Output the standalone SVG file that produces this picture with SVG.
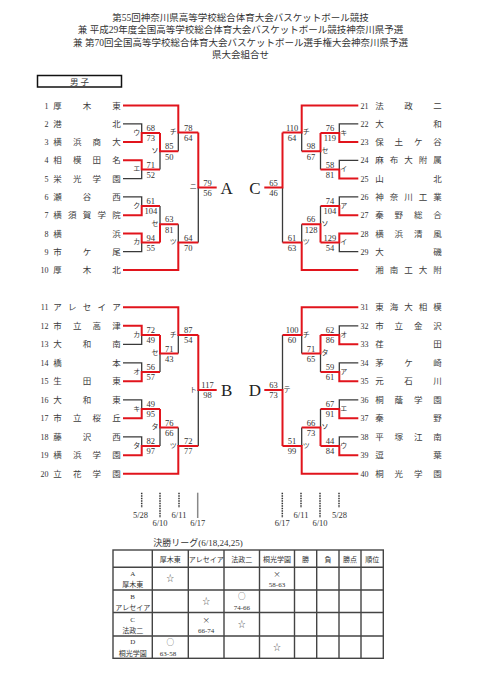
<svg xmlns="http://www.w3.org/2000/svg" width="481" height="680" viewBox="0 0 481 680">
<style>
.k{fill:none;stroke:#3a3a3a;stroke-width:1.3}
.r{fill:none;stroke:#e1141c;stroke-width:2}
.num{font-family:'Liberation Serif','Noto Sans CJK JP',serif;font-size:8px;fill:#333;text-anchor:end}
.nm{font-family:'Noto Sans CJK JP',sans-serif;font-size:8.5px;fill:#3c3c3c;text-anchor:middle}
.sc{font-family:'Liberation Serif',serif;font-size:8.5px;fill:#333;text-anchor:middle}
.lb{font-family:'Noto Sans CJK JP',sans-serif;font-size:7px;fill:#333;text-anchor:middle}
.big{font-family:'Liberation Serif',serif;font-size:17px;fill:#222;text-anchor:middle}
.ttl{font-family:'Liberation Serif','Noto Sans CJK JP',serif;font-size:9.5px;fill:#333;text-anchor:middle}
.dt{font-family:'Liberation Serif',serif;font-size:8.5px;fill:#333;text-anchor:middle}
.dl{fill:none;stroke:#333;stroke-width:1.5;stroke-dasharray:1.5 1}
.tb{fill:none;stroke:#444;stroke-width:1.4}
.tt{font-family:'Liberation Serif','Noto Sans CJK JP',serif;font-size:7px;fill:#333;text-anchor:middle}
.sy{font-family:'Noto Sans CJK JP',sans-serif;font-size:7.5px;fill:#444;text-anchor:middle}
</style>
<rect width="481" height="680" fill="#fff"/>
<g id="title">
<text class="ttl" x="240.5" y="20.5">第55回神奈川県高等学校総合体育大会バスケットボール競技</text>
<text class="ttl" x="240.5" y="33">兼 平成29年度全国高等学校総合体育大会バスケットボール競技神奈川県予選</text>
<text class="ttl" x="240.5" y="45.5">兼 第70回全国高等学校総合体育大会バスケットボール選手権大会神奈川県予選</text>
<text class="ttl" x="240.5" y="58">県大会組合せ</text>
</g>
<g id="section">
<rect x="37.5" y="75.5" width="84" height="11.5" fill="none" stroke="#111" stroke-width="1.5"/>
<text class="nm" x="79.5" y="84.5">男 子</text>
</g>
<g id="connectors">
<path class="k" d="M123 123.8H141.7V133M123 178.6H141.7V169.5M160 169.5V151.2M178.3 151.2V132.5M123 196.9H141.7V206M123 251.7H141.7V242.6M160 206V224.3M178.3 224.3V242.6M198.3 242.6V187.5"/>
<path class="k" d="M358.3 123.8H339.3V133M358.3 160.3H339.3V169.5M320.5 169.5V151.2M301.7 151.2V132.5M358.3 196.9H339.3V206M358.3 251.7H339.3V242.6M320.5 206V224.3M301.7 224.3V242.6M282.5 242.6V187.5"/>
<path class="k" d="M123 344.3H141.7V335M123 362.8H141.7V372M160 372V353.5M178.3 353.5V335M123 399.8H141.7V409M123 436.8H141.7V446M160 446V427.5M178.3 427.5V446M198.3 446V390"/>
<path class="k" d="M358.3 325.8H339.3V335M358.3 362.8H339.3V372M320.5 372V353.5M301.7 353.5V335M358.3 399.8H339.3V409M358.3 436.8H339.3V446M320.5 409V427.5M301.7 427.5V446M282.5 335V390"/>
<path class="r" d="M123 142.1H141.7V133H160M123 160.3H141.7V169.5H160M160 133V151.2H178.3M123 105.5H178.3V132.5H198.3M123 215.2H141.7V206H160M123 233.5H141.7V242.6H160M160 242.6V224.3H178.3M123 270H178.3V242.6H198.3M198.3 132.5V187.5H216.7"/>
<path class="r" d="M358.3 142.1H339.3V133H320.5M358.3 178.6H339.3V169.5H320.5M320.5 133V151.2H301.7M358.3 105.5H301.7V132.5H282.5M358.3 215.2H339.3V206H320.5M358.3 233.5H339.3V242.6H320.5M320.5 242.6V224.3H301.7M358.3 270H301.7V242.6H282.5M282.5 132.5V187.5H264.3"/>
<path class="r" d="M123 325.8H141.7V335H160M123 381.3H141.7V372H160M160 335V353.5H178.3M123 307.3H178.3V335H198.3M123 418.3H141.7V409H160M123 455.3H141.7V446H160M160 409V427.5H178.3M123 473.8H178.3V446H198.3M198.3 335V390H216.7"/>
<path class="r" d="M358.3 344.3H339.3V335H320.5M358.3 381.3H339.3V372H320.5M320.5 335V353.5H301.7M358.3 307.3H301.7V335H282.5M358.3 418.3H339.3V409H320.5M358.3 455.3H339.3V446H320.5M320.5 446V427.5H301.7M358.3 473.8H301.7V446H282.5M282.5 446V390H264.3"/>
</g>
<g id="t1"><text class="num" x="48.5" y="108.5">1</text><text class="nm" x="57.5 87 116.5" y="108.5">厚木東</text></g>
<g id="t2"><text class="num" x="48.5" y="126.8">2</text><text class="nm" x="57.5 116.5" y="126.8">港北</text></g>
<g id="t3"><text class="num" x="48.5" y="145.1">3</text><text class="nm" x="57.5 77.2 96.8 116.5" y="145.1">横浜商大</text></g>
<g id="t4"><text class="num" x="48.5" y="163.3">4</text><text class="nm" x="57.5 77.2 96.8 116.5" y="163.3">相模田名</text></g>
<g id="t5"><text class="num" x="48.5" y="181.6">5</text><text class="nm" x="57.5 77.2 96.8 116.5" y="181.6">栄光学園</text></g>
<g id="t6"><text class="num" x="48.5" y="199.9">6</text><text class="nm" x="57.5 87 116.5" y="199.9">瀬谷西</text></g>
<g id="t7"><text class="num" x="48.5" y="218.2">7</text><text class="nm" x="57.5 72.25 87 101.75 116.5" y="218.2">横須賀学院</text></g>
<g id="t8"><text class="num" x="48.5" y="236.5">8</text><text class="nm" x="57.5 116.5" y="236.5">横浜</text></g>
<g id="t9"><text class="num" x="48.5" y="254.7">9</text><text class="nm" x="57.5 87 116.5" y="254.7">市ケ尾</text></g>
<g id="t10"><text class="num" x="48.5" y="273">10</text><text class="nm" x="57.5 87 116.5" y="273">厚木北</text></g>
<g id="t11"><text class="num" x="48.5" y="310.3">11</text><text class="nm" x="57.5 72.25 87 101.75 116.5" y="310.3">アレセイア</text></g>
<g id="t12"><text class="num" x="48.5" y="328.8">12</text><text class="nm" x="57.5 77.2 96.8 116.5" y="328.8">市立高津</text></g>
<g id="t13"><text class="num" x="48.5" y="347.3">13</text><text class="nm" x="57.5 87 116.5" y="347.3">大和南</text></g>
<g id="t14"><text class="num" x="48.5" y="365.8">14</text><text class="nm" x="57.5 116.5" y="365.8">橋本</text></g>
<g id="t15"><text class="num" x="48.5" y="384.3">15</text><text class="nm" x="57.5 87 116.5" y="384.3">生田東</text></g>
<g id="t16"><text class="num" x="48.5" y="402.8">16</text><text class="nm" x="57.5 87 116.5" y="402.8">大和東</text></g>
<g id="t17"><text class="num" x="48.5" y="421.3">17</text><text class="nm" x="57.5 77.2 96.8 116.5" y="421.3">市立桜丘</text></g>
<g id="t18"><text class="num" x="48.5" y="439.8">18</text><text class="nm" x="57.5 87 116.5" y="439.8">藤沢西</text></g>
<g id="t19"><text class="num" x="48.5" y="458.3">19</text><text class="nm" x="57.5 77.2 96.8 116.5" y="458.3">横浜学園</text></g>
<g id="t20"><text class="num" x="48.5" y="476.8">20</text><text class="nm" x="57.5 77.2 96.8 116.5" y="476.8">立花学園</text></g>
<g id="t21"><text class="num" x="368.5" y="108.5">21</text><text class="nm" x="379.5 408.5 437.5" y="108.5">法政二</text></g>
<g id="t22"><text class="num" x="368.5" y="126.8">22</text><text class="nm" x="379.5 437.5" y="126.8">大和</text></g>
<g id="t23"><text class="num" x="368.5" y="145.1">23</text><text class="nm" x="379.5 398.8 418.2 437.5" y="145.1">保土ケ谷</text></g>
<g id="t24"><text class="num" x="368.5" y="163.3">24</text><text class="nm" x="379.5 394 408.5 423 437.5" y="163.3">麻布大附属</text></g>
<g id="t25"><text class="num" x="368.5" y="181.6">25</text><text class="nm" x="379.5 437.5" y="181.6">山北</text></g>
<g id="t26"><text class="num" x="368.5" y="199.9">26</text><text class="nm" x="379.5 394 408.5 423 437.5" y="199.9">神奈川工業</text></g>
<g id="t27"><text class="num" x="368.5" y="218.2">27</text><text class="nm" x="379.5 398.8 418.2 437.5" y="218.2">秦野総合</text></g>
<g id="t28"><text class="num" x="368.5" y="236.5">28</text><text class="nm" x="379.5 398.8 418.2 437.5" y="236.5">横浜清風</text></g>
<g id="t29"><text class="num" x="368.5" y="254.7">29</text><text class="nm" x="379.5 437.5" y="254.7">大磯</text></g>
<g id="t30"><text class="nm" x="379.5 394 408.5 423 437.5" y="273">湘南工大附</text></g>
<g id="t31"><text class="num" x="368.5" y="310.3">31</text><text class="nm" x="379.5 394 408.5 423 437.5" y="310.3">東海大相模</text></g>
<g id="t32"><text class="num" x="368.5" y="328.8">32</text><text class="nm" x="379.5 398.8 418.2 437.5" y="328.8">市立金沢</text></g>
<g id="t33"><text class="num" x="368.5" y="347.3">33</text><text class="nm" x="379.5 437.5" y="347.3">荏田</text></g>
<g id="t34"><text class="num" x="368.5" y="365.8">34</text><text class="nm" x="379.5 408.5 437.5" y="365.8">茅ケ崎</text></g>
<g id="t35"><text class="num" x="368.5" y="384.3">35</text><text class="nm" x="379.5 408.5 437.5" y="384.3">元石川</text></g>
<g id="t36"><text class="num" x="368.5" y="402.8">36</text><text class="nm" x="379.5 398.8 418.2 437.5" y="402.8">桐蔭学園</text></g>
<g id="t37"><text class="num" x="368.5" y="421.3">37</text><text class="nm" x="379.5 437.5" y="421.3">秦野</text></g>
<g id="t38"><text class="num" x="368.5" y="439.8">38</text><text class="nm" x="379.5 398.8 418.2 437.5" y="439.8">平塚江南</text></g>
<g id="t39"><text class="num" x="368.5" y="458.3">39</text><text class="nm" x="379.5 437.5" y="458.3">逗葉</text></g>
<g id="t40"><text class="num" x="368.5" y="476.8">40</text><text class="nm" x="379.5 398.8 418.2 437.5" y="476.8">桐光学園</text></g>
<g id="matchesA">
<text class="lb" x="136.7" y="134.5">ウ</text><text class="sc" x="150.85" y="131">68</text><text class="sc" x="150.85" y="141.3">73</text>
<text class="lb" x="136.7" y="171">エ</text><text class="sc" x="150.85" y="167.5">71</text><text class="sc" x="150.85" y="177.8">52</text>
<text class="lb" x="155" y="152.7">ソ</text><text class="sc" x="169.15" y="149.2">85</text><text class="sc" x="169.15" y="159.5">50</text>
<text class="lb" x="173.3" y="134">チ</text><text class="sc" x="188.3" y="130.5">78</text><text class="sc" x="188.3" y="140.8">64</text>
<text class="lb" x="193.3" y="189">ニ</text><text class="sc" x="207.5" y="185.5">79</text><text class="sc" x="207.5" y="195.8">56</text>
<text class="lb" x="136.7" y="207.5">ク</text><text class="sc" x="150.85" y="204">61</text><text class="sc" x="150.85" y="214.3">104</text>
<text class="lb" x="136.7" y="244.1">カ</text><text class="sc" x="150.85" y="240.6">94</text><text class="sc" x="150.85" y="250.9">55</text>
<text class="lb" x="155" y="225.8">セ</text><text class="sc" x="169.15" y="222.3">63</text><text class="sc" x="169.15" y="232.6">81</text>
<text class="lb" x="173.3" y="244.1">ツ</text><text class="sc" x="188.3" y="240.6">64</text><text class="sc" x="188.3" y="250.9">70</text>
<text class="big" x="226.7" y="193.5">A</text>
</g>
<g id="matchesC">
<text class="lb" x="343.8" y="134.5">キ</text><text class="sc" x="329.9" y="131">76</text><text class="sc" x="329.9" y="141.3">119</text>
<text class="lb" x="343.8" y="171">イ</text><text class="sc" x="329.9" y="167.5">58</text><text class="sc" x="329.9" y="177.8">81</text>
<text class="lb" x="325" y="152.7">セ</text><text class="sc" x="311.1" y="149.2">98</text><text class="sc" x="311.1" y="159.5">67</text>
<text class="lb" x="306.2" y="134">チ</text><text class="sc" x="292.1" y="130.5">110</text><text class="sc" x="292.1" y="140.8">64</text>
<text class="sc" x="273.4" y="185.5">65</text><text class="sc" x="273.4" y="195.8">46</text>
<text class="lb" x="343.8" y="207.5">ア</text><text class="sc" x="329.9" y="204">74</text><text class="sc" x="329.9" y="214.3">104</text>
<text class="lb" x="343.8" y="244.1">イ</text><text class="sc" x="329.9" y="240.6">129</text><text class="sc" x="329.9" y="250.9">54</text>
<text class="lb" x="325" y="225.8">ソ</text><text class="sc" x="311.1" y="222.3">66</text><text class="sc" x="311.1" y="232.6">128</text>
<text class="lb" x="306.2" y="244.1">ツ</text><text class="sc" x="292.1" y="240.6">61</text><text class="sc" x="292.1" y="250.9">63</text>
<text class="big" x="255" y="193.5">C</text>
</g>
<g id="matchesB">
<text class="lb" x="136.7" y="336.5">カ</text><text class="sc" x="150.85" y="333">72</text><text class="sc" x="150.85" y="343.3">49</text>
<text class="lb" x="136.7" y="373.5">オ</text><text class="sc" x="150.85" y="370">56</text><text class="sc" x="150.85" y="380.3">57</text>
<text class="lb" x="155" y="355">セ</text><text class="sc" x="169.15" y="351.5">71</text><text class="sc" x="169.15" y="361.8">43</text>
<text class="lb" x="173.3" y="336.5">チ</text><text class="sc" x="188.3" y="333">87</text><text class="sc" x="188.3" y="343.3">54</text>
<text class="lb" x="193.3" y="391.5">ト</text><text class="sc" x="207.5" y="388">117</text><text class="sc" x="207.5" y="398.3">98</text>
<text class="lb" x="136.7" y="410.5">キ</text><text class="sc" x="150.85" y="407">49</text><text class="sc" x="150.85" y="417.3">95</text>
<text class="lb" x="136.7" y="447.5">タ</text><text class="sc" x="150.85" y="444">82</text><text class="sc" x="150.85" y="454.3">97</text>
<text class="lb" x="155" y="429">タ</text><text class="sc" x="169.15" y="425.5">76</text><text class="sc" x="169.15" y="435.8">66</text>
<text class="lb" x="173.3" y="447.5">ツ</text><text class="sc" x="188.3" y="444">72</text><text class="sc" x="188.3" y="454.3">77</text>
<text class="big" x="226.7" y="396">B</text>
</g>
<g id="matchesD">
<text class="lb" x="343.8" y="336.5">オ</text><text class="sc" x="329.9" y="333">62</text><text class="sc" x="329.9" y="343.3">86</text>
<text class="lb" x="343.8" y="373.5">ア</text><text class="sc" x="329.9" y="370">59</text><text class="sc" x="329.9" y="380.3">61</text>
<text class="lb" x="325" y="355">タ</text><text class="sc" x="311.1" y="351.5">71</text><text class="sc" x="311.1" y="361.8">65</text>
<text class="lb" x="306.2" y="336.5">チ</text><text class="sc" x="292.1" y="333">100</text><text class="sc" x="292.1" y="343.3">60</text>
<text class="lb" x="287" y="391.5">テ</text><text class="sc" x="273.4" y="388">63</text><text class="sc" x="273.4" y="398.3">73</text>
<text class="lb" x="343.8" y="410.5">エ</text><text class="sc" x="329.9" y="407">67</text><text class="sc" x="329.9" y="417.3">91</text>
<text class="lb" x="343.8" y="447.5">ウ</text><text class="sc" x="329.9" y="444">44</text><text class="sc" x="329.9" y="454.3">84</text>
<text class="lb" x="325" y="429">ソ</text><text class="sc" x="311.1" y="425.5">66</text><text class="sc" x="311.1" y="435.8">73</text>
<text class="lb" x="306.2" y="447.5">ツ</text><text class="sc" x="292.1" y="444">51</text><text class="sc" x="292.1" y="454.3">99</text>
<text class="big" x="255" y="396">D</text>
</g>
<g id="dates">
<path class="dl" d="M141.7 492.7V508M160 492.7V518M179 492.7V508M282.3 492.7V518M301 492.7V508M320 492.7V518M339 492.7V508"/>
<path d="M197.7 492.7V518" fill="none" stroke="#888" stroke-width="1.5"/>
<text class="dt" x="140.5" y="518">5/28</text>
<text class="dt" x="160" y="526.3">6/10</text>
<text class="dt" x="179" y="518">6/11</text>
<text class="dt" x="197.7" y="526.3">6/17</text>
<text class="dt" x="282.3" y="526.3">6/17</text>
<text class="dt" x="301" y="518">6/11</text>
<text class="dt" x="320" y="526.3">6/10</text>
<text class="dt" x="339.5" y="518">5/28</text>
</g>
<g id="league">
<text class="ttl" x="153.3" y="546" style="text-anchor:start;font-size:9px">決勝リーグ(6/18,24,25)</text>
<rect class="tb" x="113" y="550" width="270.3" height="108.3"/>
<path class="tb" d="M113 567.3H383.3M113 590H383.3M113 612.5H383.3M113 636H383.3M152.3 550V658.3M188.3 550V658.3M224 550V658.3M259.5 550V658.3M294.5 550V658.3M316.7 550V658.3M339 550V658.3M361 550V658.3"/>
<text class="tt" x="170.3" y="561.5">厚木東</text>
<text class="tt" x="206.2" y="561.5">アレセイア</text>
<text class="tt" x="241.8" y="561.5">法政二</text>
<text class="tt" x="277" y="561.5">桐光学園</text>
<text class="tt" x="305.6" y="561.5">勝</text>
<text class="tt" x="327.9" y="561.5">負</text>
<text class="tt" x="350" y="561.5">勝点</text>
<text class="tt" x="372.2" y="561.5">順位</text>
<text class="tt" x="132.7" y="576">A</text><text class="tt" x="132.7" y="587">厚木東</text>
<text class="tt" x="132.7" y="598.7">B</text><text class="tt" x="132.7" y="610">アレセイア</text>
<text class="tt" x="132.7" y="622">C</text><text class="tt" x="132.7" y="633">法政二</text>
<text class="tt" x="132.7" y="644.4">D</text><text class="tt" x="132.7" y="656.3">桐光学園</text>
<text class="sy" x="170.3" y="581">☆</text>
<text class="sy" x="206.2" y="603.5">☆</text>
<text class="sy" x="241.8" y="627">☆</text>
<text class="sy" x="277" y="649.5">☆</text>
<text class="sy" x="277" y="576.5">×</text><text class="tt" x="277" y="587">58-63</text>
<text class="sy" x="241.8" y="599.2">○</text><text class="tt" x="241.8" y="610">74-66</text>
<text class="sy" x="206.2" y="622.5">×</text><text class="tt" x="206.2" y="633">66-74</text>
<text class="sy" x="170.3" y="644.9">○</text><text class="tt" x="168" y="656.3">63-58</text>
</g>
</svg>
